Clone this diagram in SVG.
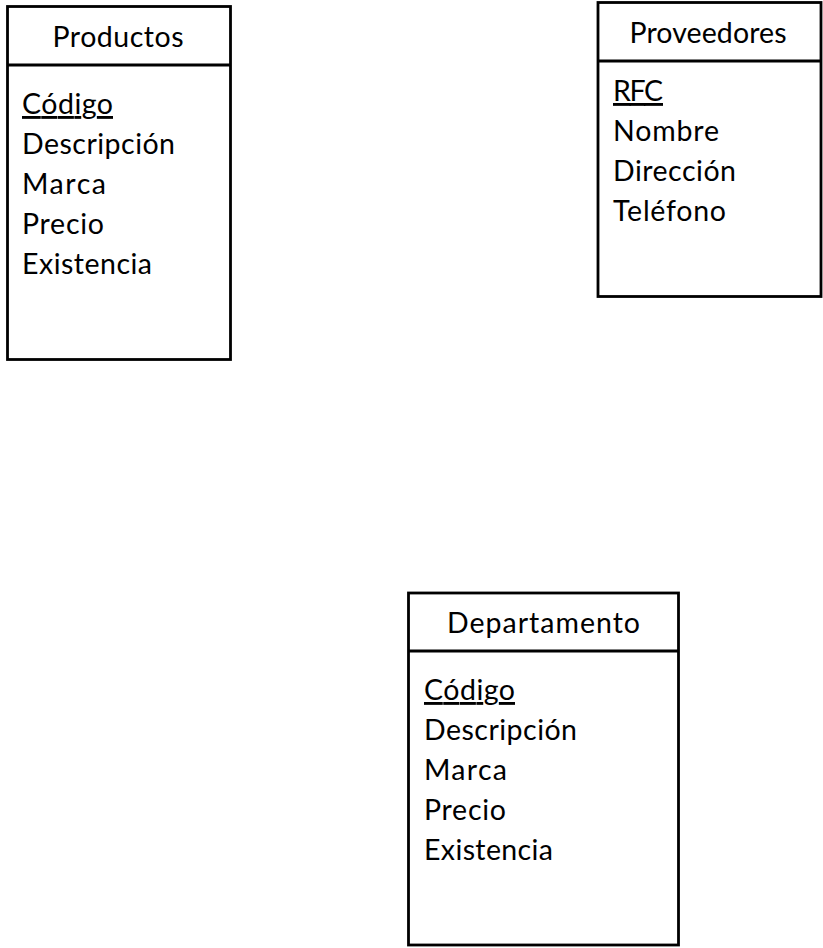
<svg xmlns="http://www.w3.org/2000/svg" width="823" height="948" viewBox="0 0 823 948">
<style>
.box{fill:#ffffff;stroke:#000000;stroke-width:2.8}
.div{stroke:#000000;stroke-width:2.8}
.t{font-family:Lato,"Open Sans","Noto Sans",sans-serif;font-size:28.5px;fill:#000000}
.h{text-anchor:middle}
.u{text-decoration:underline}
</style>
<rect width="823" height="948" fill="#ffffff"/>
<g id="productos">
<rect class="box" x="7.5" y="6.5" width="223" height="353"/>
<line class="div" x1="7.5" y1="65" x2="230.5" y2="65"/>
<text class="t h" x="118" y="46.5" textLength="131">Productos</text>
<text class="t u" x="22" y="114" textLength="91">Código</text>
<text class="t" x="22" y="154" textLength="153">Descripción</text>
<text class="t" x="22" y="194" textLength="84">Marca</text>
<text class="t" x="22" y="234" textLength="82">Precio</text>
<text class="t" x="22" y="274" textLength="130">Existencia</text>
</g>
<g id="proveedores">
<rect class="box" x="598" y="2.5" width="223" height="294"/>
<line class="div" x1="598" y1="61" x2="821" y2="61"/>
<text class="t h" x="708" y="42.5" textLength="157">Proveedores</text>
<text class="t u" x="613" y="101" textLength="50">RFC</text>
<text class="t" x="613" y="141" textLength="106">Nombre</text>
<text class="t" x="613" y="181" textLength="123">Dirección</text>
<text class="t" x="613" y="221" textLength="113">Teléfono</text>
</g>
<g id="departamento">
<rect class="box" x="408.5" y="593" width="270" height="352"/>
<line class="div" x1="408.5" y1="651" x2="678.5" y2="651"/>
<text class="t h" x="543.5" y="632.5" textLength="193">Departamento</text>
<text class="t u" x="424" y="700" textLength="91">Código</text>
<text class="t" x="424" y="740" textLength="153">Descripción</text>
<text class="t" x="424" y="780" textLength="83">Marca</text>
<text class="t" x="424" y="820" textLength="82">Precio</text>
<text class="t" x="424" y="860" textLength="129">Existencia</text>
</g>
<g id="connectors"/>
</svg>
